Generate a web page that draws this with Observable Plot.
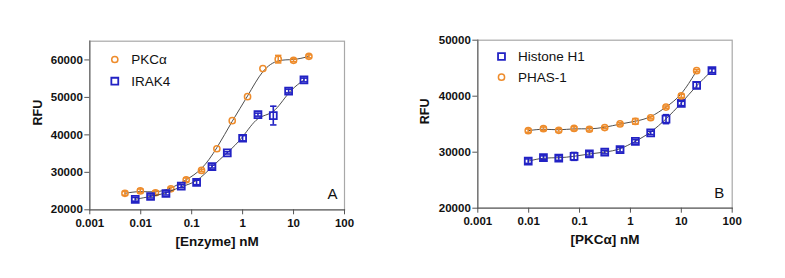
<!DOCTYPE html>
<html><head><meta charset="utf-8">
<script src="https://cdn.jsdelivr.net/npm/d3@7"></script>
<script src="https://cdn.jsdelivr.net/npm/@observablehq/plot@0.6"></script>
<style>
body{margin:0;background:#fff;}
#wrap{position:relative;width:785px;height:278px;overflow:hidden;background:#fff;font-family:"Liberation Sans",Arial,sans-serif;}
#wrap svg{position:absolute;top:0;}
</style></head><body><div id="wrap"></div>
<script>
// ---- tick values / labels
const xTickValues = [0.001, 0.01, 0.1, 1, 10, 100];
const xTickLabels = ["0.001", "0.01", "0.1", "1", "10", "100"];
const yTicksA = [20000, 30000, 40000, 50000, 60000];
const yTicksB = [20000, 30000, 40000, 50000];

// ---- Panel A: [Enzyme] nM
const pkcA_x = [0.0049, 0.0098, 0.0195, 0.039, 0.078, 0.156, 0.3125, 0.625, 1.25, 2.5, 5, 10, 20];
const pkcA_y = [24400, 25050, 24550, 25600, 28000, 30500, 36300, 43800, 50200, 57700, 60200, 59900, 60950];
const pkcA_err = [500, 500, 500, 400, 500, 300, 0, 0, 0, 0, 1000, 400, 400];
const irakA_x = [0.0078, 0.0156, 0.03125, 0.0625, 0.125, 0.25, 0.5, 1, 2, 4, 8, 16];
const irakA_y = [22800, 23550, 24350, 26300, 27300, 31550, 35200, 39100, 45400, 45150, 51700, 54650];
const irakA_err = [500, 400, 400, 400, 600, 400, 300, 700, 400, 2500, 500, 500];

// ---- Panel B: [PKCα] nM
const h1B_x = [0.0098, 0.0195, 0.039, 0.078, 0.156, 0.3125, 0.625, 1.25, 2.5, 5, 10, 20, 40];
const h1B_y = [28400, 29050, 28950, 29250, 29700, 30000, 30450, 31950, 33450, 35900, 38700, 41950, 44550];
const h1B_err = [400, 300, 400, 700, 400, 300, 400, 300, 300, 800, 400, 550, 350];
const phasB_x = [0.0098, 0.0195, 0.039, 0.078, 0.156, 0.3125, 0.625, 1.25, 2.5, 5, 10, 20];
const phasB_y = [33850, 34200, 33900, 34250, 34100, 34400, 35050, 35500, 36150, 38050, 40050, 44550];
const phasB_err = [300, 300, 300, 300, 300, 200, 200, 500, 200, 200, 300, 200];

const ORANGE = "#EE8C2C";
const BLUE = "#2222C4";

const rows = (xs, ys, es) => xs.map((x, i) => ({x, y: ys[i], e: es[i]}));
const capSymbol = {draw(ctx) { ctx.moveTo(-3.2, 0); ctx.lineTo(3.2, 0); }};
const xFmt = d => xTickLabels[xTickValues.indexOf(d)];

function seriesMarks(data, color, symbol, r, sw) {
  const eb = data.filter(d => d.e > 0);
  const caps = eb.flatMap(d => [{x: d.x, y: d.y - d.e}, {x: d.x, y: d.y + d.e}]);
  return [
    Plot.line(data, {x: "x", y: "y", curve: "basis", stroke: "#3a3a3a", strokeWidth: 0.9}),
    Plot.ruleX(eb, {x: "x", y1: d => d.y - d.e, y2: d => d.y + d.e, stroke: color, strokeWidth: 1.6}),
    Plot.dot(caps, {x: "x", y: "y", symbol: capSymbol, stroke: color, strokeWidth: 1.6}),
    Plot.dot(data, {x: "x", y: "y", symbol, r, stroke: color, fill: "none", strokeWidth: sw})
  ];
}

function panel(o) {
  const svg = Plot.plot({
    width: o.width, height: 278,
    marginLeft: o.ml, marginRight: o.mr, marginTop: o.mt, marginBottom: o.mb,
    style: {fontFamily: "Liberation Sans, Arial, sans-serif", background: "transparent", overflow: "visible"},
    x: {type: "log", domain: [0.001, 100]},
    y: {domain: o.yDomain},
    marks: [
      Plot.frame({stroke: "#a8a8a8", strokeWidth: 1.2}),
      Plot.frame({anchor: "left", stroke: "#6a6a6a", strokeWidth: 1.2}),
      Plot.frame({anchor: "bottom", stroke: "#6a6a6a", strokeWidth: 1.2}),
      Plot.axisX({ticks: xTickValues, tickFormat: xFmt, tickSize: 5, tickPadding: 4, fontSize: 11.5, fontWeight: "bold", stroke: "#555", fill: "#111", label: null}),
      Plot.axisY({ticks: o.yTicks, tickFormat: d => String(d), tickSize: 5, tickPadding: 2, fontSize: 11.5, fontWeight: "bold", stroke: "#555", fill: "#111", label: null}),
      Plot.text(["RFU"], {frameAnchor: "left", dx: o.rfuDx, rotate: -90, fontSize: 12.5, fontWeight: "bold", fill: "#111"}),
      Plot.text([o.xLabel], {frameAnchor: "bottom", dy: 36, lineAnchor: "bottom", fontSize: 13.5, fontWeight: "bold", fill: "#111"}),
      Plot.text([o.letter], {frameAnchor: "bottom-right", dx: o.letterDx, dy: -10.5, lineAnchor: "bottom", textAnchor: "end", fontSize: 15, fill: "#111"}),
      ...o.series.flatMap(s => seriesMarks(s.data, s.color, s.symbol, s.r, s.sw)),
      ...o.series.flatMap((s, i) => [
        Plot.dot([0], {frameAnchor: "top-left", dx: o.legDx, dy: o.legDy + i * o.legGap, symbol: s.symbol, r: s.r, stroke: s.color, fill: "none", strokeWidth: s.sw}),
        Plot.text([s.name], {frameAnchor: "top-left", dx: o.legDx + 16.5, dy: o.legDy + i * o.legGap, textAnchor: "start", lineAnchor: "middle", fontSize: 13.5, fill: "#111"})
      ])
    ]
  });
  svg.style.left = o.left + "px";
  document.getElementById("wrap").appendChild(svg);
}

panel({
  left: 0, width: 392, ml: 89.3, mr: 48, mt: 40.7, mb: 68.7,
  yDomain: [20000, 65000], yTicks: yTicksA,
  xLabel: "[Enzyme] nM", letter: "A", letterDx: -7, rfuDx: -52,
  legDx: 25, legDy: 18.3, legGap: 21.7,
  series: [
    {name: "PKCα", data: rows(pkcA_x, pkcA_y, pkcA_err), color: ORANGE, symbol: "circle", r: 3.1, sw: 1.5},
    {name: "IRAK4", data: rows(irakA_x, irakA_y, irakA_err), color: BLUE, symbol: "square", r: 3.9, sw: 1.8}
  ]
});

panel({
  left: 392, width: 393, ml: 85.3, mr: 53.3, mt: 39.7, mb: 70.3,
  yDomain: [20000, 50000], yTicks: yTicksB,
  xLabel: "[PKCα] nM", letter: "B", letterDx: -8, rfuDx: -52.8,
  legDx: 23.7, legDy: 16.3, legGap: 20.7,
  series: [
    {name: "Histone H1", data: rows(h1B_x, h1B_y, h1B_err), color: BLUE, symbol: "square", r: 3.9, sw: 1.8},
    {name: "PHAS-1", data: rows(phasB_x, phasB_y, phasB_err), color: ORANGE, symbol: "circle", r: 3.1, sw: 1.5}
  ]
});
</script></body></html>
